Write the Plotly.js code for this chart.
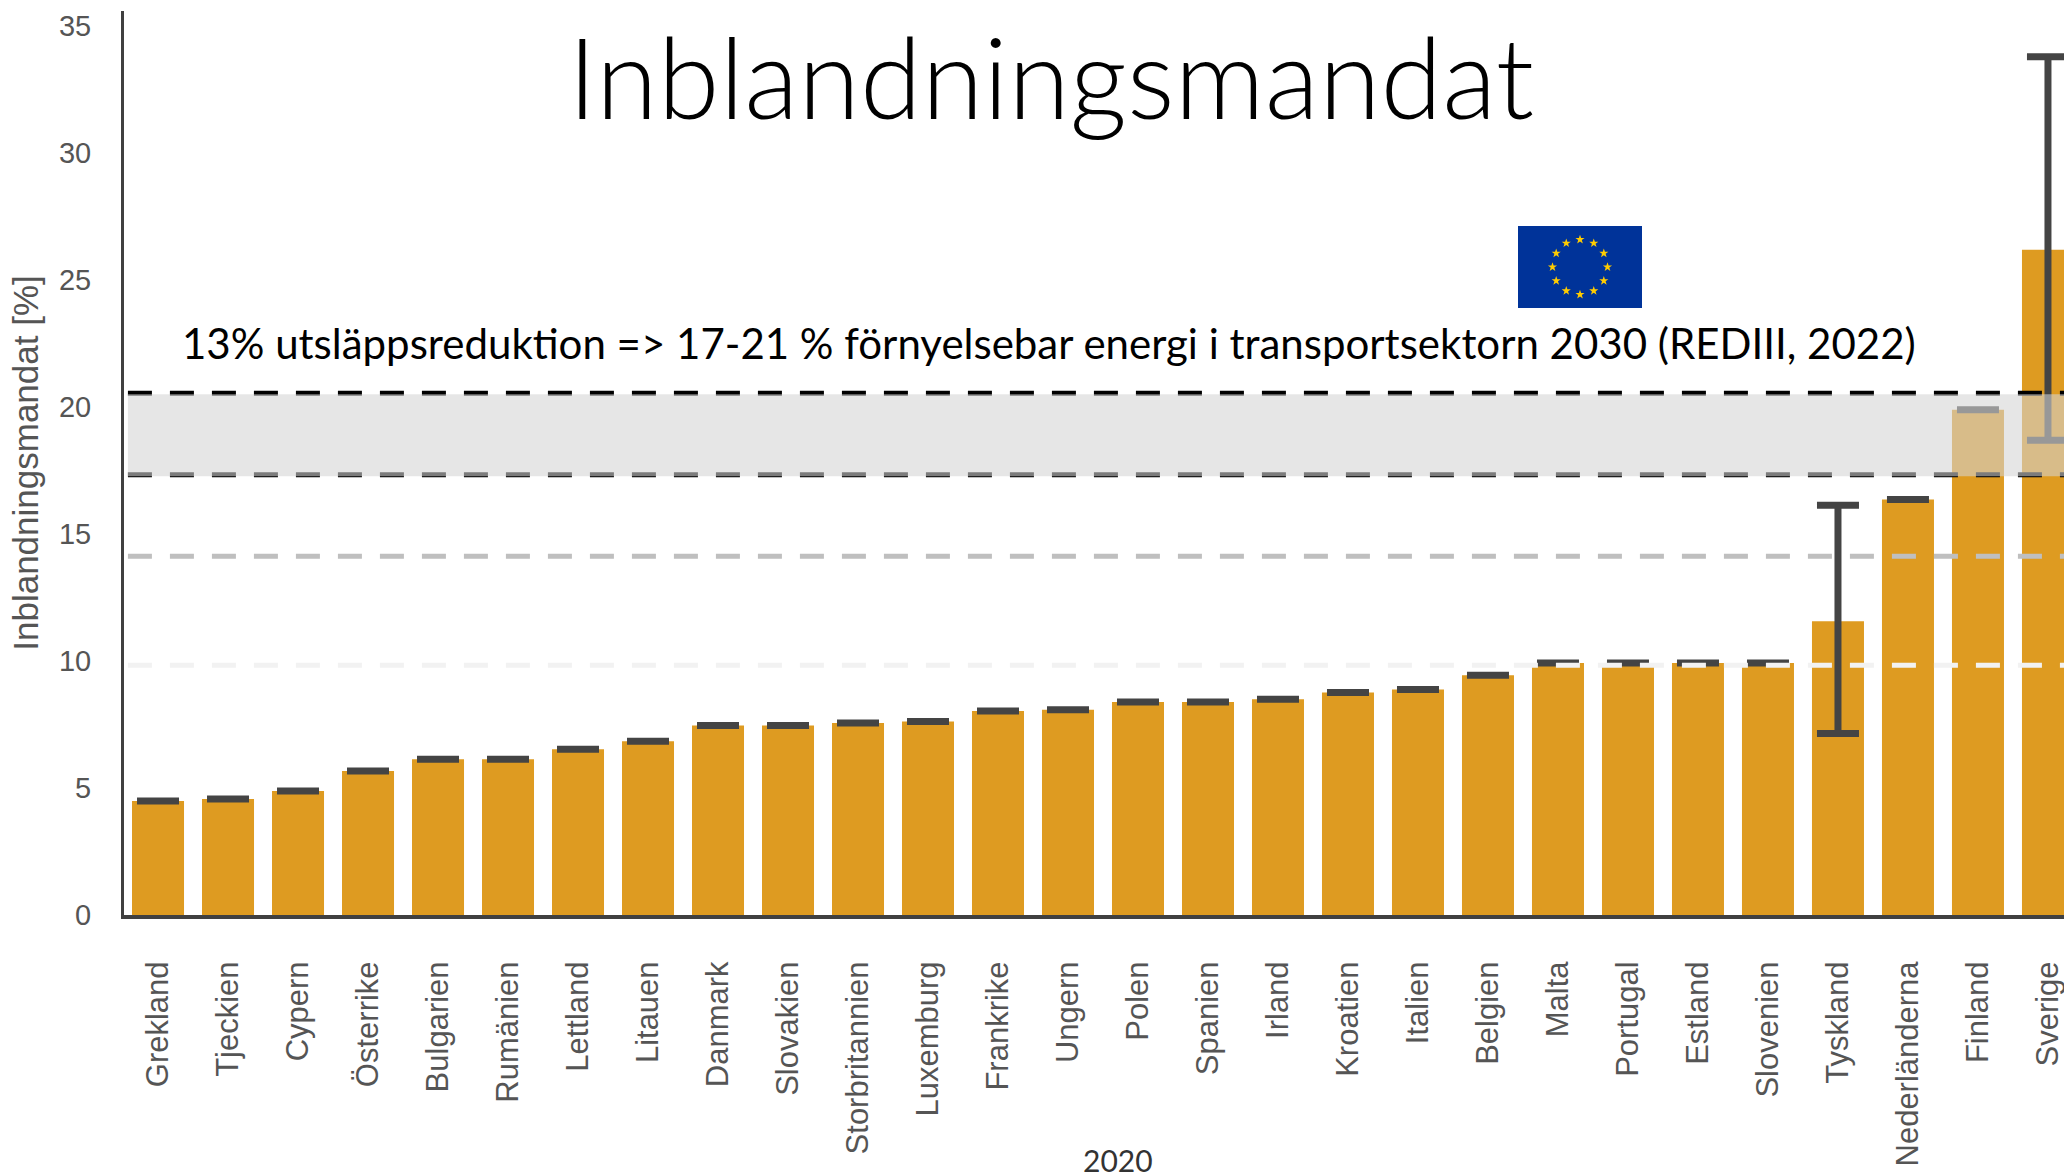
<!DOCTYPE html>
<html lang="sv">
<head>
<meta charset="utf-8">
<title>Inblandningsmandat</title>
<script src="https://cdn.plot.ly/plotly-3.0.1.min.js"></script>
<style>html,body{margin:0;padding:0;background:#fff;overflow:hidden}#chart{width:2064px;height:1176px}</style>
</head>
<body>
<div id="chart"></div>
<script>
const countries = ["Grekland","Tjeckien","Cypern","Österrike","Bulgarien","Rumänien","Lettland","Litauen","Danmark","Slovakien","Storbritannien","Luxemburg","Frankrike","Ungern","Polen","Spanien","Irland","Kroatien","Italien","Belgien","Malta","Portugal","Estland","Slovenien","Tyskland","Nederländerna","Finland","Sverige"];
const mandate = [4.49,4.57,4.88,5.67,6.13,6.13,6.53,6.84,7.46,7.46,7.56,7.62,8.03,8.08,8.39,8.39,8.5,8.76,8.88,9.44,9.92,9.92,9.92,9.92,11.57,16.36,19.9,26.2];
const errorPlus = [0,0,0,0,0,0,0,0,0,0,0,0,0,0,0,0,0,0,0,0,0,0,0,0,4.57,0,0,7.6];
const errorMinus = [0,0,0,0,0,0,0,0,0,0,0,0,0,0,0,0,0,0,0,0,0,0,0,0,4.42,0,0,7.5];
const yTicks = [0,5,10,15,20,25,30,35];
const bandLow = 17.28, bandHigh = 20.51;
const lineBandTop = 20.55, lineBandBottom = 17.34, lineGrey = 14.13, lineLight = 9.84;
const titleText = "Inblandningsmandat";
const noteText = "13% utsläppsreduktion => 17-21 % förnyelsebar energi i transportsektorn 2030 (REDIII, 2022)";
const yearText = "2020";
const yTitle = "Inblandningsmandat [%]";

function euFlag() {
  let stars = "";
  for (let i = 0; i < 12; i++) {
    const a = i * Math.PI / 6;
    const cx = 62 + 27.5 * Math.sin(a), cy = 41 - 27.5 * Math.cos(a);
    let pts = [];
    for (let k = 0; k < 10; k++) {
      const r = k % 2 ? 1.9 : 4.8, b = k * Math.PI / 5;
      pts.push((cx + r * Math.sin(b)).toFixed(2) + "," + (cy - r * Math.cos(b)).toFixed(2));
    }
    stars += '<polygon fill="#ffcc00" points="' + pts.join(" ") + '"/>';
  }
  const svg = '<svg xmlns="http://www.w3.org/2000/svg" width="124" height="82" viewBox="0 0 124 82"><rect width="124" height="82" fill="#003399"/>' + stars + '</svg>';
  return "data:image/svg+xml;base64," + btoa(svg);
}

const dashLine = (y, color) => ({type:"line", xref:"x", yref:"y", x0:-0.43, x1:27.3, y0:y, y1:y, layer:"above",
  line:{color:color, width:5, dash:"24px,18px"}});

const W = 2064, H = 1176, L = 124, T = 11, B = 915;

Plotly.newPlot("chart", [{
  type:"bar", x:countries, y:mandate,
  marker:{color:"#de9b21", line:{width:0}},
  error_y:{type:"data", symmetric:false, array:errorPlus, arrayminus:errorMinus, color:"#444444", thickness:7, width:21, visible:true},
  hoverinfo:"x+y"
}], {
  width:W, height:H, paper_bgcolor:"#fff", plot_bgcolor:"#fff", showlegend:false, bargap:0.257,
  margin:{l:L, r:0, t:T, b:H-B, pad:0},
  font:{family:"Liberation Sans, Arial, sans-serif", color:"#4d4d4d"},
  title:{text:titleText, x:1051/W, xanchor:"center", y:1-80/H, yanchor:"middle", font:{family:"Lato, sans-serif", size:112, weight:300, color:"#000"}},
  xaxis:{type:"category", range:[-0.486,27.229], tickmode:"array", tickvals:countries, ticktext:countries, tickangle:-90, ticks:"", showgrid:false, zeroline:false,
    showline:true, linecolor:"#404040", linewidth:4, ticklabelstandoff:30, tickfont:{size:31, color:"#555555"}},
  yaxis:{range:[0,35.6], tickmode:"array", tickvals:yTicks, ticks:"", showgrid:false, zeroline:false,
    showline:true, linecolor:"#404040", linewidth:3, ticklabelstandoff:24, tickfont:{size:29, color:"#555555"},
    title:{text:yTitle, standoff:10, font:{size:35, color:"#555555"}}},
  shapes:[
    dashLine(lineBandTop,"#000"), dashLine(lineBandBottom,"#000"), dashLine(lineGrey,"#bfbfbf"), dashLine(lineLight,"#f2f2f2"),
    {type:"rect", xref:"x", yref:"y", x0:-0.43, x1:27.3, y0:bandLow, y1:bandHigh, layer:"above", opacity:0.586, fillcolor:"#d4d4d4", line:{width:0}}
  ],
  annotations:[
    {text:noteText, xref:"paper", yref:"paper", x:(1048.5-L)/(W-L), y:(B-343)/(B-T), xanchor:"center", yanchor:"middle", showarrow:false, font:{family:"Lato, sans-serif", size:42, color:"#000"}},
    {text:yearText, xref:"paper", yref:"paper", x:(1118-L)/(W-L), y:(B-1160)/(B-T), xanchor:"center", yanchor:"middle", showarrow:false, font:{family:"Lato, sans-serif", size:30, color:"#333"}}
  ],
  images:[{source:euFlag(), xref:"paper", yref:"paper", x:(1518-L)/(W-L), y:(B-226)/(B-T), sizex:124/(W-L), sizey:82/(B-T), xanchor:"left", yanchor:"top", sizing:"stretch", layer:"above"}]
}, {displayModeBar:false, responsive:false});
</script>
</body>
</html>
